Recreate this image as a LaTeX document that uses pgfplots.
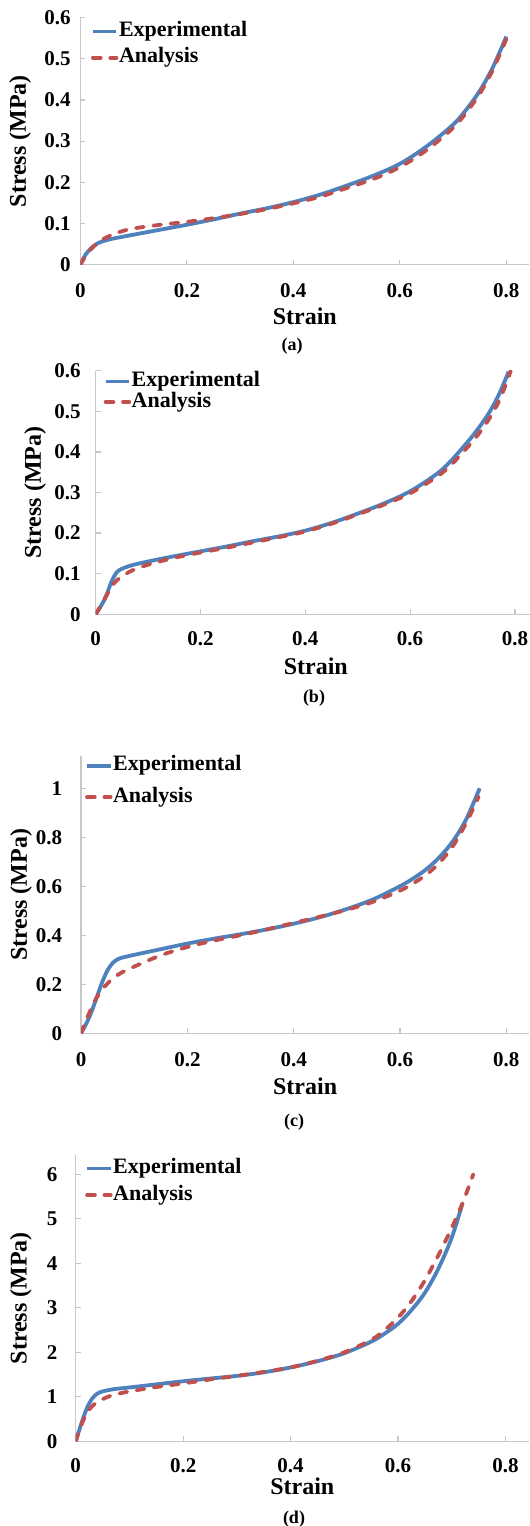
\documentclass[border=0pt]{standalone}
\usepackage{fontspec}
\setmainfont{Liberation Serif}
\usepackage{pgfplots}
\pgfplotsset{compat=1.18}
\definecolor{expblue}{HTML}{4F81BD}
\definecolor{anared}{HTML}{C0504D}

\pgfplotsset{
  panel/.style={
    scale only axis,
    anchor=south west,
    xmin=0, ymin=0,
    axis lines*=left,
    axis line style={draw=black!22, line width=0.7pt},
    tick align=inside,
    major tick length=2.5pt,
    tick style={draw=black!22, line width=0.6pt},
    xtick={0,0.2,0.4,0.6,0.8},
    /pgf/number format/assume math mode=true,
    /pgf/number format/fixed,
    /pgf/number format/precision=1,
    ticklabel style={font=\fontsize{10.5}{12}\selectfont\bfseries, inner sep=0pt},
    label style={font=\fontsize{12}{14}\selectfont\bfseries, inner sep=0pt},
    xlabel={Strain},
    ylabel={Stress (MPa)},
    legend image code/.code={\draw[##1] (0pt,0pt) -- (11.8pt,0pt);},
    legend style={draw=none, fill=none, inner sep=0pt, outer sep=0pt,
      at={(axis description cs:0,1)}, anchor=north west,
      font=\fontsize{11}{13}\selectfont\bfseries,
      cells={anchor=west},
      nodes={inner sep=0.3pt, text height=7pt, text depth=2pt}},
  },
  expline/.style={color=expblue, line width=1.9pt, line join=round, smooth, tension=0.55},
  analine/.style={color=anared, line width=1.9pt, line cap=round, line join=round,
    dash pattern=on 3.9pt off 4.8pt, smooth, tension=0.55},
}

\begin{document}
\begin{tikzpicture}
\useasboundingbox (0,0) rectangle (265pt,-763pt);

% (a)
\begin{axis}[panel,
  at={(40.2pt,-132.35pt)}, width=224.4pt, height=123.55pt,
  xmax=0.843, ymax=0.6, ytick={0,0.1,0.2,0.3,0.4,0.5,0.6},
  xticklabel style={anchor=center, yshift=-13pt},
  yticklabel style={anchor=east, xshift=-4.7pt},
  xlabel style={at={(axis description cs:0.5,0)}, anchor=center, yshift=-25.6pt},
  ylabel style={at={(axis description cs:-0.1346,0.5)}, anchor=center},
  legend style={xshift=5.3pt, yshift=-2.1pt, row sep=3.5pt},
]
\addplot[expline] table {
0 0
0.005 0.013
0.01 0.025
0.02 0.040
0.03 0.050
0.04 0.056
0.06 0.063
0.08 0.068
0.1 0.073
0.15 0.085
0.2 0.097
0.25 0.110
0.3 0.124
0.35 0.137
0.4 0.152
0.45 0.170
0.5 0.192
0.55 0.216
0.6 0.245
0.65 0.287
0.7 0.340
0.725 0.377
0.75 0.422
0.775 0.480
0.8 0.554
};
\addlegendentry{Experimental}
\addplot[analine] table {
0 0
0.01 0.022
0.02 0.038
0.03 0.050
0.04 0.060
0.06 0.073
0.08 0.082
0.1 0.088
0.15 0.097
0.2 0.104
0.25 0.113
0.3 0.123
0.35 0.135
0.4 0.149
0.45 0.165
0.5 0.186
0.55 0.208
0.6 0.237
0.65 0.278
0.7 0.332
0.725 0.370
0.75 0.415
0.775 0.474
0.8 0.548
};
\addlegendentry{Analysis}
\end{axis}

% (b)
\begin{axis}[panel,
  at={(47.85pt,-307.1pt)}, width=220.1pt, height=121.7pt,
  xmax=0.84, ymax=0.6, ytick={0,0.1,0.2,0.3,0.4,0.5,0.6},
  xticklabel style={anchor=center, yshift=-12.35pt},
  yticklabel style={anchor=east, xshift=-7.3pt},
  xlabel style={at={(axis description cs:0.5,0)}, anchor=center, yshift=-25.85pt},
  ylabel style={at={(axis description cs:-0.1377,0.5)}, anchor=center},
  legend style={xshift=4pt, yshift=-0.5pt, row sep=0.7pt},
]
\addplot[expline] table {
0 0
0.01 0.020
0.02 0.045
0.03 0.080
0.04 0.103
0.05 0.112
0.07 0.121
0.1 0.130
0.15 0.143
0.2 0.155
0.25 0.167
0.3 0.180
0.35 0.192
0.4 0.206
0.45 0.225
0.5 0.248
0.55 0.273
0.6 0.303
0.65 0.345
0.675 0.374
0.7 0.410
0.725 0.449
0.75 0.495
0.77 0.543
0.788 0.598
};
\addlegendentry{Experimental}
\addplot[analine] table {
0 0
0.01 0.022
0.02 0.045
0.03 0.068
0.04 0.083
0.05 0.093
0.07 0.108
0.1 0.122
0.15 0.139
0.2 0.152
0.25 0.164
0.3 0.177
0.35 0.190
0.4 0.204
0.45 0.223
0.5 0.246
0.55 0.270
0.6 0.298
0.65 0.338
0.675 0.364
0.7 0.398
0.725 0.435
0.75 0.480
0.772 0.532
0.792 0.600
};
\addlegendentry{Analysis}
\end{axis}

% (c)
\begin{axis}[panel,
  at={(40.55pt,-516.6pt)}, width=224pt, height=138.4pt,
  xmax=0.843, ymax=1.13, ytick={0,0.2,0.4,0.6,0.8,1},
  xticklabel style={anchor=center, yshift=-13pt},
  yticklabel style={anchor=east, xshift=-9.3pt},
  xlabel style={at={(axis description cs:0.5,0)}, anchor=center, yshift=-26.5pt},
  ylabel style={at={(axis description cs:-0.1339,0.5)}, anchor=center},
  legend style={xshift=2pt, yshift=0.2pt, row sep=6.2pt},
]
\addplot[expline] table {
0 0
0.01 0.040
0.02 0.090
0.03 0.150
0.04 0.210
0.05 0.258
0.06 0.288
0.07 0.303
0.08 0.310
0.1 0.320
0.15 0.343
0.2 0.366
0.25 0.386
0.3 0.404
0.35 0.424
0.4 0.447
0.45 0.474
0.5 0.507
0.55 0.547
0.6 0.600
0.625 0.632
0.65 0.670
0.675 0.720
0.7 0.785
0.725 0.875
0.75 1.000
};
\addlegendentry{Experimental}
\addplot[analine] table {
0 0
0.01 0.055
0.02 0.105
0.03 0.148
0.04 0.180
0.06 0.224
0.08 0.252
0.1 0.272
0.15 0.318
0.2 0.352
0.25 0.378
0.3 0.400
0.35 0.424
0.4 0.450
0.45 0.476
0.5 0.504
0.55 0.537
0.6 0.582
0.625 0.612
0.65 0.648
0.675 0.698
0.7 0.765
0.725 0.860
0.748 0.965
};
\addlegendentry{Analysis}
\end{axis}

% (d)
\begin{axis}[panel,
  at={(37.85pt,-720.65pt)}, width=226.6pt, height=143.1pt,
  xmax=0.8435, ymax=6.43, ytick={0,1,2,3,4,5,6},
  /pgf/number format/precision=0,
  xticklabel style={anchor=center, yshift=-12.3pt, /pgf/number format/precision=1},
  yticklabel style={anchor=east, xshift=-9pt},
  xlabel style={at={(axis description cs:0.5,0)}, anchor=center, yshift=-22.6pt},
  ylabel style={at={(axis description cs:-0.1209,0.5)}, anchor=center},
  legend style={xshift=4.75pt, yshift=-1.9pt, row sep=3.7pt},
]
\addplot[expline] table {
0 0
0.01 0.38
0.02 0.72
0.03 0.95
0.04 1.07
0.05 1.12
0.07 1.17
0.1 1.21
0.15 1.28
0.2 1.35
0.25 1.41
0.3 1.47
0.35 1.55
0.4 1.66
0.45 1.80
0.5 1.98
0.55 2.24
0.575 2.42
0.6 2.64
0.625 2.95
0.65 3.34
0.675 3.88
0.7 4.58
0.72 5.35
};
\addlegendentry{Experimental}
\addplot[analine] table {
0 0
0.01 0.35
0.02 0.62
0.03 0.78
0.04 0.88
0.06 1.00
0.08 1.07
0.1 1.12
0.15 1.22
0.2 1.30
0.25 1.39
0.3 1.47
0.35 1.56
0.4 1.66
0.45 1.81
0.5 2.00
0.55 2.28
0.575 2.50
0.6 2.78
0.625 3.15
0.65 3.62
0.675 4.18
0.7 4.80
0.72 5.35
0.74 6.00
};
\addlegendentry{Analysis}
\end{axis}

\node[font=\fontsize{9}{10}\selectfont\bfseries] at (146pt,-173.25pt) {(a)};
\node[font=\fontsize{9}{10}\selectfont\bfseries] at (157pt,-349pt) {(b)};
\node[font=\fontsize{9}{10}\selectfont\bfseries] at (147pt,-560.9pt) {(c)};
\node[font=\fontsize{9}{10}\selectfont\bfseries] at (147pt,-759.5pt) {(d)};
\end{tikzpicture}
\end{document}
